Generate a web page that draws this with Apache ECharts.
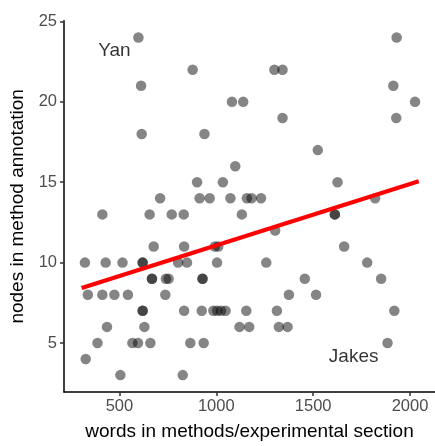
<!DOCTYPE html>
<html>
<head>
<meta charset="utf-8">
<script src="https://cdn.jsdelivr.net/npm/echarts@6/dist/echarts.min.js"></script>
<style>
html,body{margin:0;padding:0;background:#fff;}
#chart{width:435px;height:446px;}
</style>
</head>
<body>
<div id="chart"></div>
<script>
// words in methods/experimental section (x) and nodes in method annotation (y), one pair per point
const wordsX = [
  598, 1931,
  878, 1300, 1342,
  612, 1914,
  1081, 1139, 2026,
  1342, 1929,
  615, 939,
  1524,
  1098,
  901, 1034, 1626,
  710, 914, 966, 1073, 1158, 1182, 1231, 1820,
  412, 656, 770, 832, 1132, 1612, 1612,
  1304,
  677, 834, 993, 1010, 1660,
  322, 429, 516, 620, 620, 803, 849, 1004, 1258, 1779,
  668, 668, 740, 754, 929, 929, 1457, 1851,
  337, 412, 474, 544, 737, 1375, 1515,
  620, 620, 834, 925, 985, 1005, 1025, 1048, 1155, 1313, 1919,
  436, 629, 1120, 1170, 1323, 1368,
  387, 567, 596, 660, 866, 935, 1884,
  326,
  505, 827
];
const nodesY = [
  24, 24,
  22, 22, 22,
  21, 21,
  20, 20, 20,
  19, 19,
  18, 18,
  17,
  16,
  15, 15, 15,
  14, 14, 14, 14, 14, 14, 14, 14,
  13, 13, 13, 13, 13, 13, 13,
  12,
  11, 11, 11, 11, 11,
  10, 10, 10, 10, 10, 10, 10, 10, 10, 10,
  9, 9, 9, 9, 9, 9, 9, 9,
  8, 8, 8, 8, 8, 8, 8,
  7, 7, 7, 7, 7, 7, 7, 7, 7, 7, 7,
  6, 6, 6, 6, 6, 6,
  5, 5, 5, 5, 5, 5, 5,
  4,
  3, 3
];
// fitted line end points
const fitX = [305, 2045];
const fitY = [8.42, 15.06];
// annotations
const annotNames = ['Yan', 'Jakes'];
const annotX = [474, 1709];
const annotY = [23.18, 4.17];
// tick labels
const xTicks = [500, 1000, 1500, 2000];
const yTicks = [5, 10, 15, 20, 25];

const points = wordsX.map((x, i) => [x, nodesY[i]]);
const fitLine = fitX.map((x, i) => [x, fitY[i]]);
const annots = annotNames.map((n, i) => ({ name: n, value: [annotX[i], annotY[i]] }));

const FONT = 'Liberation Sans';
const chart = echarts.init(document.getElementById('chart'), null, { renderer: 'canvas' });
chart.setOption({
  animation: false,
  backgroundColor: '#ffffff',
  grid: { left: 63.5, right: 0, top: 20.7, bottom: 50, containLabel: false },
  xAxis: {
    type: 'value', min: 214, max: 2129,
    name: 'words in methods/experimental section',
    nameLocation: 'middle', nameGap: 30,
    nameTextStyle: { fontFamily: FONT, fontSize: 19, color: '#000' },
    axisLine: { show: true, lineStyle: { color: '#000', width: 1.5 } },
    axisTick: { show: true, length: 4, lineStyle: { color: '#333', width: 1.5 }, customValues: xTicks },
    axisLabel: { fontFamily: FONT, fontSize: 16.5, color: '#4d4d4d', margin: 6, customValues: xTicks,
      formatter: v => String(v) },
    splitLine: { show: false }
  },
  yAxis: {
    type: 'value', min: 1.95, max: 25.05,
    name: 'nodes in method annotation',
    nameLocation: 'middle', nameGap: 37, nameRotate: 90,
    nameTextStyle: { fontFamily: FONT, fontSize: 19, color: '#000' },
    axisLine: { show: true, lineStyle: { color: '#000', width: 1.5 } },
    axisTick: { show: true, length: 4, lineStyle: { color: '#333', width: 1.5 }, customValues: yTicks },
    axisLabel: { fontFamily: FONT, fontSize: 16.5, color: '#4d4d4d', margin: 7, customValues: yTicks,
      formatter: v => String(v) },
    splitLine: { show: false }
  },
  series: [
    {
      type: 'scatter', data: points, symbol: 'circle', symbolSize: 10.5,
      itemStyle: { color: 'rgba(0,0,0,0.6)' },
      emphasis: { disabled: true }
    },
    {
      type: 'line', data: fitLine, symbol: 'none',
      lineStyle: { color: '#ff0000', width: 4 },
      emphasis: { disabled: true }
    },
    {
      type: 'scatter', data: annots, symbolSize: 0,
      label: { show: true, position: 'inside', formatter: '{b}', fontFamily: FONT, fontSize: 19,
        color: '#000000', textBorderWidth: 0 },
      emphasis: { disabled: true }
    }
  ]
});
</script>
</body>
</html>
